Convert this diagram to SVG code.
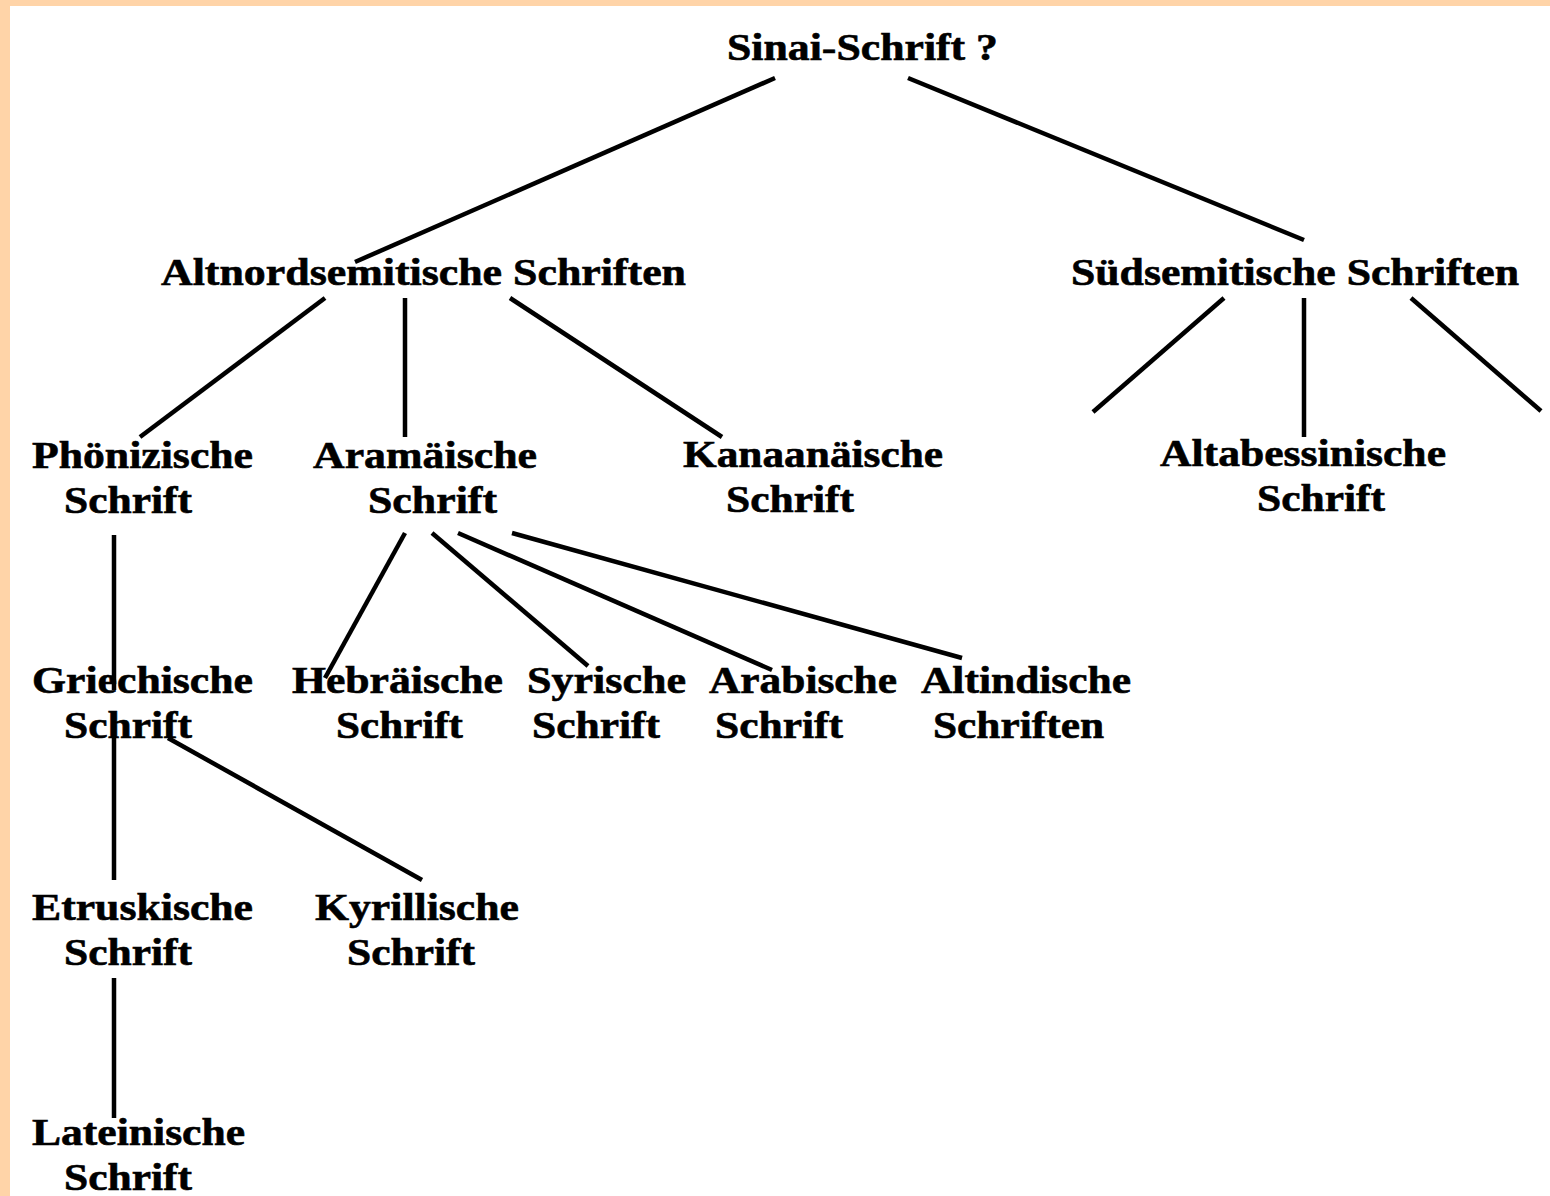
<svg xmlns="http://www.w3.org/2000/svg" width="1550" height="1196" viewBox="0 0 1550 1196">
<style>
text{font-family:"Liberation Serif","Times New Roman",serif;font-weight:bold;font-size:38px;fill:#000;stroke:#000;stroke-width:0.6}
.c line{stroke:#000;stroke-width:4.5;stroke-linecap:butt}
</style>
<rect x="0" y="0" width="1550" height="1196" fill="#fff"/>
<rect x="0" y="0" width="10" height="1196" fill="#FFD4A8"/>
<rect x="0" y="0" width="1550" height="6" fill="#FFD4A8"/>
<g class="c" id="connectors">
<line x1="775" y1="78" x2="355" y2="262"/>
<line x1="908" y1="78" x2="1304" y2="240"/>
<line x1="325" y1="298" x2="140" y2="437"/>
<line x1="405" y1="298" x2="405" y2="437"/>
<line x1="510" y1="298" x2="722" y2="437"/>
<line x1="1224" y1="298" x2="1093" y2="412"/>
<line x1="1304" y1="298" x2="1304" y2="437"/>
<line x1="1411" y1="298" x2="1541" y2="411"/>
<line x1="114" y1="535" x2="114" y2="690"/>
<line x1="114" y1="738" x2="114" y2="880"/>
<line x1="168" y1="738" x2="422" y2="880"/>
<line x1="114" y1="978" x2="114" y2="1118"/>
<line x1="405" y1="533" x2="325" y2="678"/>
<line x1="432" y1="533" x2="588" y2="666"/>
<line x1="458" y1="533" x2="772" y2="670"/>
<line x1="512" y1="533" x2="962" y2="658"/>
</g>
<g id="sinai"><text x="727" y="60" textLength="271" lengthAdjust="spacingAndGlyphs">Sinai-Schrift ?</text></g>
<g id="altnord"><text x="161" y="285" textLength="525" lengthAdjust="spacingAndGlyphs">Altnordsemitische Schriften</text></g>
<g id="sued"><text x="1071" y="285" textLength="448" lengthAdjust="spacingAndGlyphs">Südsemitische Schriften</text></g>
<g id="phoen"><text x="32" y="468" textLength="221" lengthAdjust="spacingAndGlyphs">Phönizische</text><text x="64" y="513" textLength="128" lengthAdjust="spacingAndGlyphs">Schrift</text></g>
<g id="aram"><text x="313" y="468" textLength="224" lengthAdjust="spacingAndGlyphs">Aramäische</text><text x="368" y="513" textLength="129" lengthAdjust="spacingAndGlyphs">Schrift</text></g>
<g id="kanaan"><text x="683" y="467" textLength="260" lengthAdjust="spacingAndGlyphs">Kanaanäische</text><text x="726" y="512" textLength="128" lengthAdjust="spacingAndGlyphs">Schrift</text></g>
<g id="altabess"><text x="1160" y="466" textLength="286" lengthAdjust="spacingAndGlyphs">Altabessinische</text><text x="1257" y="511" textLength="128" lengthAdjust="spacingAndGlyphs">Schrift</text></g>
<g id="griech"><text x="32" y="693" textLength="221" lengthAdjust="spacingAndGlyphs">Griechische</text><text x="64" y="738" textLength="128" lengthAdjust="spacingAndGlyphs">Schrift</text></g>
<g id="hebr"><text x="292" y="693" textLength="211" lengthAdjust="spacingAndGlyphs">Hebräische</text><text x="336" y="738" textLength="127" lengthAdjust="spacingAndGlyphs">Schrift</text></g>
<g id="syr"><text x="527" y="693" textLength="159" lengthAdjust="spacingAndGlyphs">Syrische</text><text x="532" y="738" textLength="128" lengthAdjust="spacingAndGlyphs">Schrift</text></g>
<g id="arab"><text x="709" y="693" textLength="188" lengthAdjust="spacingAndGlyphs">Arabische</text><text x="715" y="738" textLength="128" lengthAdjust="spacingAndGlyphs">Schrift</text></g>
<g id="altind"><text x="921" y="693" textLength="210" lengthAdjust="spacingAndGlyphs">Altindische</text><text x="933" y="738" textLength="171" lengthAdjust="spacingAndGlyphs">Schriften</text></g>
<g id="etrusk"><text x="32" y="920" textLength="221" lengthAdjust="spacingAndGlyphs">Etruskische</text><text x="64" y="965" textLength="128" lengthAdjust="spacingAndGlyphs">Schrift</text></g>
<g id="kyrill"><text x="315" y="920" textLength="204" lengthAdjust="spacingAndGlyphs">Kyrillische</text><text x="347" y="965" textLength="128" lengthAdjust="spacingAndGlyphs">Schrift</text></g>
<g id="latein"><text x="32" y="1145" textLength="213" lengthAdjust="spacingAndGlyphs">Lateinische</text><text x="64" y="1190" textLength="128" lengthAdjust="spacingAndGlyphs">Schrift</text></g>
</svg>
